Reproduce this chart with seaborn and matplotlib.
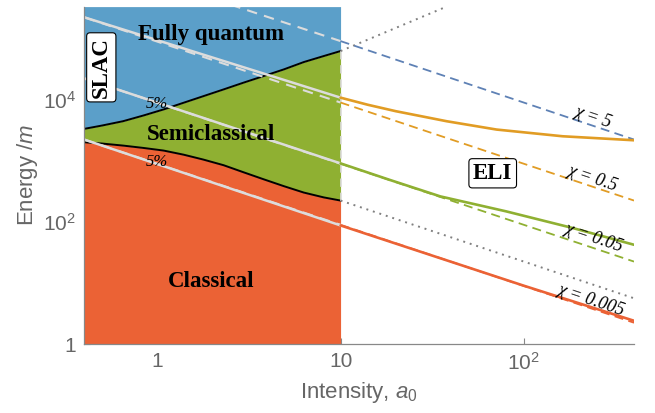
import matplotlib
matplotlib.use("Agg")
import matplotlib.pyplot as plt
import seaborn as sns

# boundaries between the regimes, drawn for a0 <= 10
a0_bound = [0.4, 0.5, 0.65, 0.84, 1.08, 1.39, 1.78, 2.3, 2.95, 3.8, 4.9, 6.3, 8.1, 10.0]
upper_bound = [3310, 3750, 4410, 5470, 6860, 8830, 11300, 14600, 18800, 24100,
               31000, 40900, 51300, 61900]
lower_bound = [1995, 1900, 1760, 1610, 1460, 1250, 1040, 840, 645, 495,
               382, 300, 250, 222]

# dotted continuation of the boundaries beyond a0 = 10
dot_up_a0 = [10, 37]
dot_up = [61900, 3.2e5]
dot_low_a0 = [10, 400]
dot_low = [222, 5.6]

# constant chi lines (dashed, straight on log-log)
chi_a0 = [0.4, 10, 400]
dash_5 = [2.2e6, 9.0e4, 2210]
dash_05 = [2.2e5, 8.9e3, 222]
dash_005 = [2.2e4, 890, 22.3]
dash_0005 = [2200, 89, 2.23]

# solid curves (white inside the shaded band, coloured beyond a0 = 10)
solid_05_a0 = [0.4, 10, 14.1, 20, 38, 71, 163, 400]
solid_05 = [2.2e5, 1.07e4, 8180, 6430, 4400, 3220, 2500, 2150]
solid_005_a0 = [0.4, 10, 18.5, 35, 80, 185, 400]
solid_005 = [2.2e4, 900, 485, 260, 148, 79, 42]
solid_0005_a0 = [0.4, 10, 100, 400]
solid_0005 = [2200, 87, 9.0, 2.4]

chi_labels = ["χ = 5", "χ = 0.5", "χ = 0.05", "χ = 0.005"]

BLUE_FILL = "#5b9fc9"
GREEN = "#8fb032"
RED = "#eb6235"
ORANGE = "#e19c24"
BLUE = "#5e81b5"
WHITE = "#dcdcdc"
GRAY = "#666666"
DASH = (0, (5, 3))
WDASH = (0, (5, 3.5))


def split(xs, ys, cut=10):
    inner = [(x, y) for x, y in zip(xs, ys) if x <= cut]
    outer = [(x, y) for x, y in zip(xs, ys) if x >= cut]
    return list(zip(*inner)), list(zip(*outer))


def main():
    sns.set_theme(style="ticks")
    plt.rcParams['font.family'] = ['Liberation Sans', 'DejaVu Sans']
    plt.rcParams['mathtext.fontset'] = 'custom'
    plt.rcParams['mathtext.rm'] = 'Liberation Sans'
    plt.rcParams['mathtext.it'] = 'Liberation Sans:italic'

    fig = plt.figure(figsize=(6.55, 4.13), dpi=100)
    ax = fig.add_axes([0.129, 0.167, 0.839, 0.817])
    ax.set_xscale('log')
    ax.set_yscale('log')
    ymax = 3.3e5

    # regimes
    ax.fill_between(a0_bound, 1, lower_bound, color=RED, lw=0, zorder=1)
    ax.fill_between(a0_bound, lower_bound, upper_bound, color=GREEN, lw=0, zorder=1)
    ax.fill_between(a0_bound, upper_bound, ymax, color=BLUE_FILL, lw=0, zorder=1)

    # boundaries
    sns.lineplot(x=a0_bound, y=upper_bound, ax=ax, color='black', lw=1.4, zorder=3)
    sns.lineplot(x=a0_bound, y=lower_bound, ax=ax, color='black', lw=1.4, zorder=3)
    ax.vlines(10, lower_bound[-1], upper_bound[-1], colors=WHITE, lw=1.2,
              linestyles=[WDASH], zorder=3)
    sns.lineplot(x=dot_up_a0, y=dot_up, ax=ax, color='#808080', lw=1.4,
                 linestyle=(0, (1, 2.5)), zorder=3)
    sns.lineplot(x=dot_low_a0, y=dot_low, ax=ax, color='#808080', lw=1.4,
                 linestyle=(0, (1, 2.5)), zorder=3)

    # dashed chi lines
    for ys, col in [(dash_5, BLUE), (dash_05, ORANGE), (dash_005, GREEN), (dash_0005, RED)]:
        (xi, yi), (xo, yo) = split(chi_a0, ys)
        ax.plot(xi, yi, color=WHITE, lw=1.5, linestyle=WDASH, zorder=4)
        sns.lineplot(x=list(xo), y=list(yo), ax=ax, color=col, lw=1.3,
                     linestyle=DASH, zorder=4)

    # solid curves
    for xs, ys, col in [(solid_05_a0, solid_05, ORANGE),
                        (solid_005_a0, solid_005, GREEN),
                        (solid_0005_a0, solid_0005, RED)]:
        (xi, yi), (xo, yo) = split(xs, ys)
        ax.plot(xi, yi, color=WHITE, lw=1.8, zorder=5)
        sns.lineplot(x=list(xo), y=list(yo), ax=ax, color=col, lw=1.9, zorder=5)

    # region labels
    serif = ['Liberation Serif', 'DejaVu Serif']
    big = dict(family=serif, fontsize=16.5, fontweight='bold', ha='center',
               va='center', color='black', zorder=6)
    ax.text(1.97, 1.16e5, "Fully quantum", **big)
    ax.text(1.97, 2670, "Semiclassical", **big)
    ax.text(1.97, 10.5, "Classical", **big)
    box = dict(boxstyle="round,pad=0.18,rounding_size=0.15", fc='white',
               ec='black', lw=0.8)
    ax.text(0.494, 33500, "SLAC", rotation=90, bbox=box, **big)
    ax.text(67.7, 620, "ELI", bbox=box, **big)
    pct = dict(family=serif, fontsize=12, style='italic', ha='center',
               va='center', color='black', zorder=6)
    ax.text(0.99, 8280, "5%", **pct)
    ax.text(0.99, 938, "5%", **pct)

    for (x, y), lab in zip([(238, 5260), (238, 526), (241, 54.7), (234, 5.26)], chi_labels):
        ax.text(x, y, lab, family=serif, fontsize=13, style='italic',
                rotation=-18.5, rotation_mode='anchor', ha='center',
                va='center', color='black', zorder=6)

    # axes
    ax.set_xlim(0.4, 400)
    ax.set_ylim(1, ymax)
    ax.minorticks_off()
    ax.set_xticks([1, 10, 100], ["1", "10", "$10^2$"])
    ax.set_yticks([1, 100, 1e4], ["1", "$10^2$", "$10^4$"])
    ax.tick_params(direction='in', length=4, width=0.8, color='#888888',
                   labelcolor=GRAY, labelsize=15, pad=6)
    for s in ['left', 'bottom']:
        ax.spines[s].set_color('#888888')
        ax.spines[s].set_linewidth(0.9)
        ax.spines[s].set_zorder(7)
    sns.despine(ax=ax)
    ax.set_xlabel("Intensity, $a_0$", fontsize=16, color=GRAY, labelpad=4)
    ax.set_ylabel("Energy /$m$", fontsize=16, color=GRAY, labelpad=2)

    fig.savefig("out.png", dpi=100)


if __name__ == '__main__':
    main()
